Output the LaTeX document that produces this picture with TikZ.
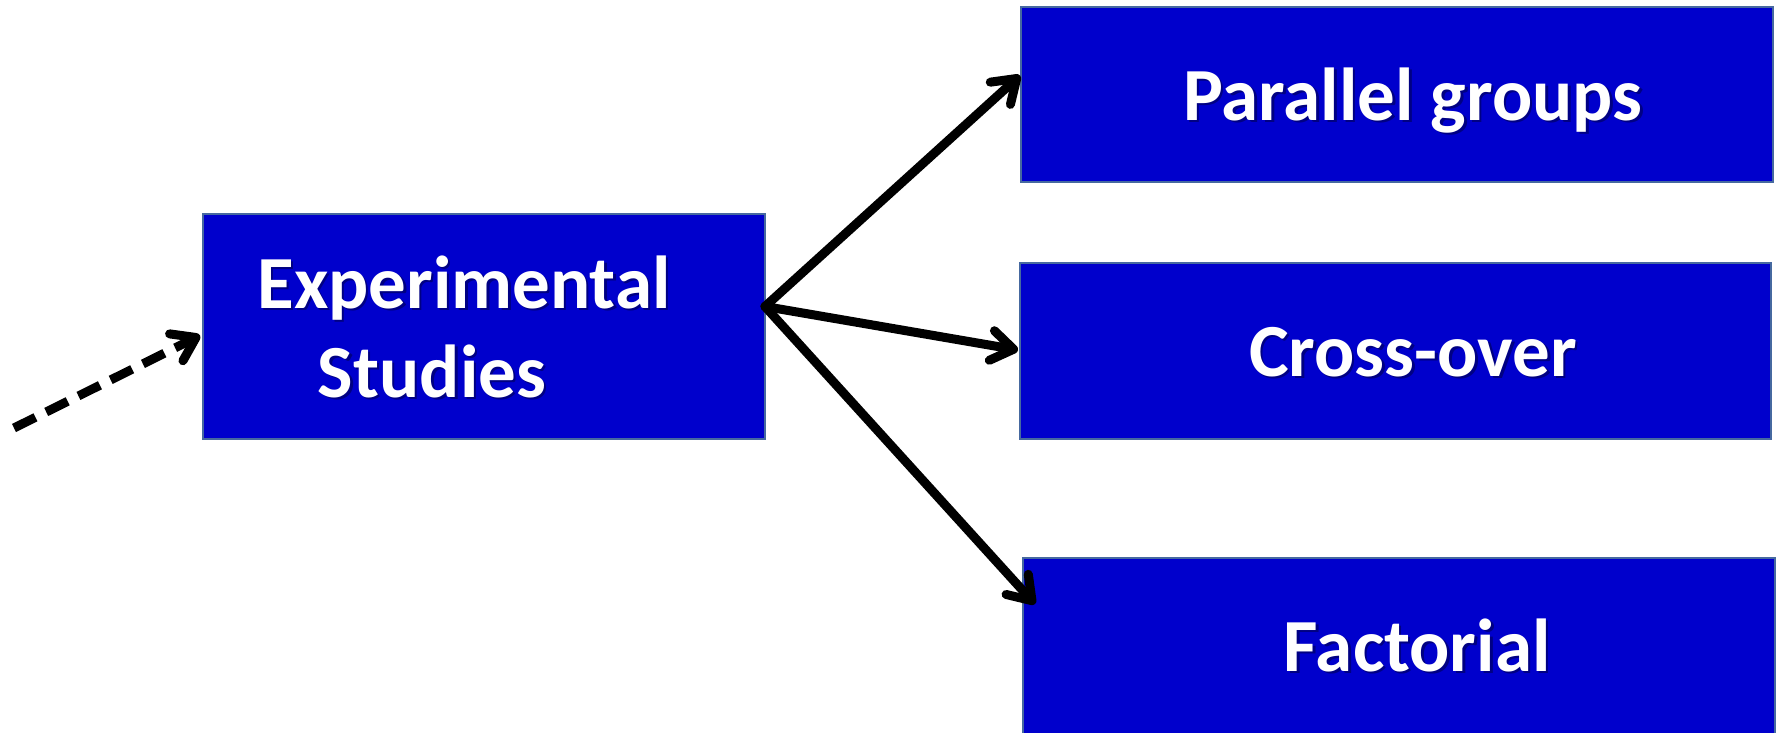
\documentclass[tikz,border=0pt]{standalone}
\usepackage{fontspec}
\setmainfont{Carlito}
\usetikzlibrary{arrows.meta}
\definecolor{boxblue}{RGB}{0,0,204}
\definecolor{boxedge}{RGB}{70,105,160}
\definecolor{shade}{RGB}{0,0,60}
\begin{document}
\begin{tikzpicture}[x=0.5pt,y=-0.5pt,
  block/.style={draw=boxedge, line width=1.25pt, fill=boxblue, inner sep=0pt, outer sep=0pt},
  lbl/.style={font=\bfseries\fontsize{37.5}{46}\selectfont, text=white, inner sep=0pt, anchor=base},
  lblshadow/.style={lbl, text=shade, opacity=0.5},
  link/.style={line width=4.5pt, line cap=round,
    -{Straight Barb[length=11pt,width=15pt,line cap=round,line join=round]}},
  dashlink/.style={link, line cap=butt, dash pattern=on 12pt off 6pt},
]
\path[use as bounding box] (0,0) rectangle (1777,733);
\clip (0,0) rectangle (1777,733);

% boxes
\node[block, minimum width=281pt, minimum height=112.5pt] (exp)   at (484,326.5) {};
\node[block, minimum width=376pt, minimum height=87.5pt]  (par)   at (1397,94.5) {};
\node[block, minimum width=375.5pt, minimum height=88pt]  (cross) at (1395.5,351) {};
\node[block, minimum width=376pt, minimum height=88pt]    (fac)   at (1399,646) {};

% labels with a soft drop shadow
\foreach \nm/\px/\py/\txt in {e1/464/308/Experimental, e2/432/397/Studies,
    p/1413/120/Parallel groups, c/1413/376/Cross-over, f/1417/671/Factorial}{
  \node[lblshadow] (\nm s) at (\px+2.5,\py+2.5) {\txt};
  \node[lbl] (\nm) at (\px,\py) {\txt};
}

% connectors
\coordinate (hub) at ([shift={(0,-20)}]exp.east);
\coordinate (src) at (14,428);
\draw[link] (hub) -- ([shift={(-1,-19)}]par.west);
\draw[link] (hub) -- ([shift={(-2,-1)}]cross.west);
\draw[link] (hub) -- ([shift={(12,46)}]fac.north west);
\draw[dashlink] (src) -- ([shift={(-3,9)}]exp.west);
\end{tikzpicture}
\end{document}
